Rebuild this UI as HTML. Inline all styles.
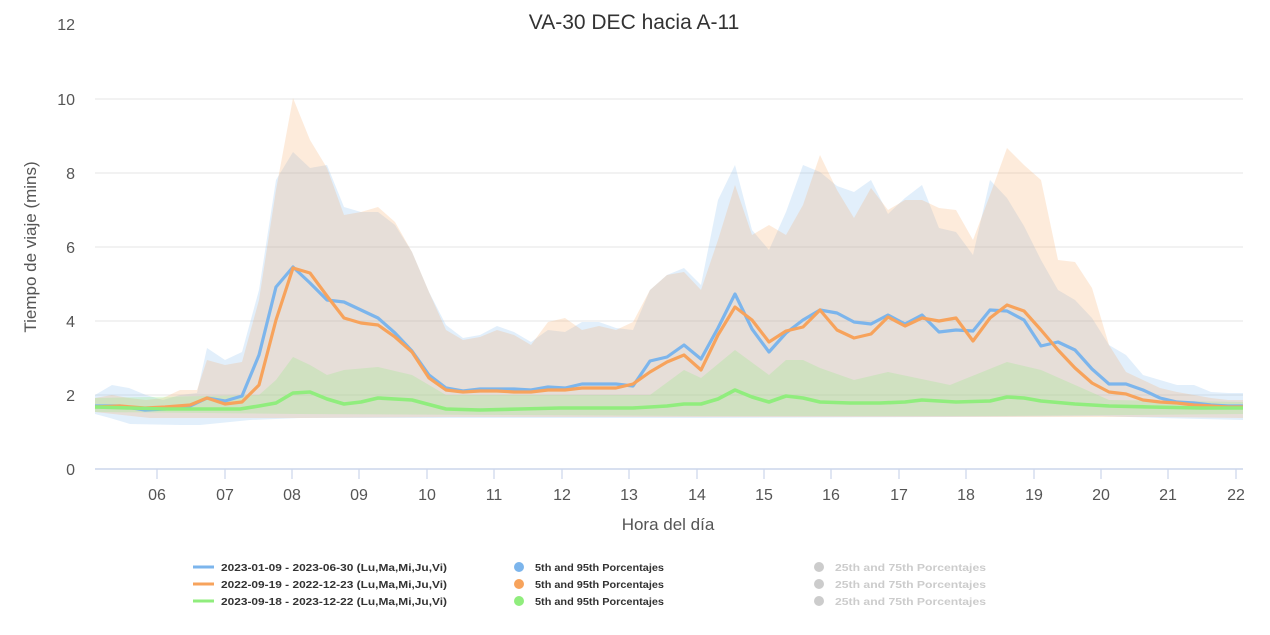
<!DOCTYPE html>
<html><head><meta charset="utf-8"><style>
body{margin:0;background:#fff;}
svg{display:block;font-family:"Liberation Sans",sans-serif;}
</style></head><body>
<svg width="1270" height="635" viewBox="0 0 1270 635">
<rect width="1270" height="635" fill="#fff"/>
<g stroke="#e6e6e6" stroke-width="1">
<line x1="95" y1="99" x2="1243" y2="99"/>
<line x1="95" y1="173" x2="1243" y2="173"/>
<line x1="95" y1="247" x2="1243" y2="247"/>
<line x1="95" y1="321" x2="1243" y2="321"/>
<line x1="95" y1="395" x2="1243" y2="395"/>
</g>
<line x1="95" y1="469" x2="1243" y2="469" stroke="#ccd6eb" stroke-width="1.5"/>
<g stroke="#ccd6eb" stroke-width="1.2">
<line x1="157" y1="469" x2="157" y2="479"/><line x1="225" y1="469" x2="225" y2="479"/><line x1="292" y1="469" x2="292" y2="479"/><line x1="359" y1="469" x2="359" y2="479"/><line x1="427" y1="469" x2="427" y2="479"/><line x1="494" y1="469" x2="494" y2="479"/><line x1="562" y1="469" x2="562" y2="479"/><line x1="629" y1="469" x2="629" y2="479"/><line x1="697" y1="469" x2="697" y2="479"/><line x1="764" y1="469" x2="764" y2="479"/><line x1="831" y1="469" x2="831" y2="479"/><line x1="899" y1="469" x2="899" y2="479"/><line x1="966" y1="469" x2="966" y2="479"/><line x1="1034" y1="469" x2="1034" y2="479"/><line x1="1101" y1="469" x2="1101" y2="479"/><line x1="1168" y1="469" x2="1168" y2="479"/><line x1="1236" y1="469" x2="1236" y2="479"/>
</g>
<polygon fill="#7cb5ec" fill-opacity="0.22" points="95,395 112,385 129,388 146,395 163,400 180,395 197,393 207,348 225,360 242,352 259,290 276,180 293,152 310,168 327,165 344,207 361,212 378,212 395,225 412,252 429,292 446,325 463,338 480,335 497,326 514,332 531,342 548,330 565,332 582,322 599,322 616,328 633,330 650,290 667,275 684,268 701,285 718,200 735,165 752,230 769,250 786,212 803,165 820,172 837,186 854,192 871,180 888,214 905,198 922,185 939,228 956,232 973,255 990,180 1007,198 1024,226 1041,260 1058,290 1075,300 1092,318 1109,345 1126,355 1143,375 1160,380 1177,385 1194,385 1211,392 1228,393 1243,393 1243,420 1160,418 1100,416 950,417 700,418 450,418 300,418 250,420 200,425 180,425 130,424 110,418 95,414"/>
<polygon fill="#f7a35c" fill-opacity="0.22" points="95,398 112,395 129,398 146,400 163,398 180,390 197,390 207,360 225,365 242,362 259,300 276,190 293,98 310,140 327,168 344,215 361,212 378,207 395,222 412,252 429,292 446,330 463,340 480,337 497,330 514,335 531,345 548,322 565,318 582,330 599,326 616,330 633,322 650,290 667,275 684,272 701,290 718,240 735,185 752,235 769,225 786,235 803,205 820,155 837,190 854,218 871,188 888,210 905,200 922,200 939,208 956,210 973,240 990,195 1007,148 1024,165 1041,180 1058,260 1075,262 1092,288 1109,345 1126,372 1143,380 1160,388 1177,392 1194,395 1211,398 1228,400 1243,400 1243,418 1160,417 1000,417 700,417 450,417 300,418 250,418 200,418 150,418 95,412"/>
<polygon fill="#90ed7d" fill-opacity="0.25" points="95,398 259,395 276,380 293,357 310,365 327,375 344,370 378,367 412,375 446,395 650,395 684,370 701,378 735,350 769,375 786,360 803,360 820,368 854,380 888,372 950,385 1007,362 1041,370 1075,385 1109,400 1243,402 1243,414 1000,416 700,416 300,414 95,412"/>
<polyline fill="none" stroke="#7cb5ec" stroke-width="3.2" stroke-linejoin="round" points="95,406 120,406 145,410 165,409 190,406 207,398 225,401 242,396 259,355 276,287 293,267 310,283 327,300 344,302 361,310 378,318 395,333 412,351 429,375 446,388 463,391 480,389 497,389 514,389 531,390 548,387 565,388 582,384 599,384 616,384 633,386 650,361 667,357 684,345 701,359 718,328 735,294 752,329 769,352 786,333 803,320 820,310 837,313 854,322 871,324 888,315 905,324 922,315 939,332 956,330 973,331 990,310 1007,311 1024,320 1041,346 1058,342 1075,350 1092,369 1109,384 1126,384 1143,390 1160,398 1177,402 1194,403 1211,405 1228,406 1243,406"/>
<polyline fill="none" stroke="#f7a35c" stroke-width="3.2" stroke-linejoin="round" points="95,407 120,406 145,408 165,407 190,405 207,398 225,404 242,402 259,385 276,320 293,268 310,273 327,296 344,318 361,323 378,325 395,337 412,352 429,378 446,390 463,392 480,391 497,391 514,392 531,392 548,390 565,390 582,388 599,388 616,388 633,384 650,372 667,362 684,355 701,370 718,335 735,307 752,320 769,342 786,331 803,327 820,310 837,330 854,338 871,334 888,317 905,326 922,318 939,321 956,318 973,341 990,318 1007,305 1024,311 1041,330 1058,350 1075,368 1092,383 1109,392 1126,394 1143,400 1160,402 1177,403 1194,405 1211,406 1228,407 1243,407"/>
<polyline fill="none" stroke="#90ed7d" stroke-width="3.6" stroke-linejoin="round" points="95,407 130,408 165,409 200,409 240,409 259,406 276,403 293,393 310,392 327,399 344,404 361,402 378,398 412,400 446,409 480,410 520,409 560,408 600,408 633,408 667,406 684,404 701,404 718,399 735,390 752,397 769,402 786,396 803,398 820,402 850,403 880,403 905,402 922,400 956,402 990,401 1007,397 1024,398 1041,401 1075,404 1109,406 1150,407 1200,408 1243,408"/>
<text x="634" y="29" font-size="21" text-anchor="middle" fill="#333">VA-30 DEC hacia A-11</text>
<g font-size="16" fill="#555" text-anchor="end">
<text x="75" y="30">12</text><text x="75" y="105">10</text><text x="75" y="179">8</text><text x="75" y="253">6</text><text x="75" y="327">4</text><text x="75" y="401">2</text><text x="75" y="475">0</text>
</g>
<g font-size="16" fill="#555" text-anchor="middle">
<text x="157" y="500">06</text><text x="225" y="500">07</text><text x="292" y="500">08</text><text x="359" y="500">09</text><text x="427" y="500">10</text><text x="494" y="500">11</text><text x="562" y="500">12</text><text x="629" y="500">13</text><text x="697" y="500">14</text><text x="764" y="500">15</text><text x="831" y="500">16</text><text x="899" y="500">17</text><text x="966" y="500">18</text><text x="1034" y="500">19</text><text x="1101" y="500">20</text><text x="1168" y="500">21</text><text x="1236" y="500">22</text>
</g>
<text x="668" y="530" font-size="17" fill="#555" text-anchor="middle">Hora del día</text>
<text transform="translate(36,247) rotate(-90)" font-size="17" fill="#555" text-anchor="middle">Tiempo de viaje (mins)</text>
<g font-size="10" font-weight="bold" fill="#333">
<line x1="193" y1="567" x2="214" y2="567" stroke="#7cb5ec" stroke-width="3"/>
<text x="221" y="571" textLength="226" lengthAdjust="spacingAndGlyphs">2023-01-09 - 2023-06-30 (Lu,Ma,Mi,Ju,Vi)</text>
<line x1="193" y1="584" x2="214" y2="584" stroke="#f7a35c" stroke-width="3"/>
<text x="221" y="588" textLength="226" lengthAdjust="spacingAndGlyphs">2022-09-19 - 2022-12-23 (Lu,Ma,Mi,Ju,Vi)</text>
<line x1="193" y1="601" x2="214" y2="601" stroke="#90ed7d" stroke-width="3"/>
<text x="221" y="605" textLength="226" lengthAdjust="spacingAndGlyphs">2023-09-18 - 2023-12-22 (Lu,Ma,Mi,Ju,Vi)</text>
<circle cx="519" cy="567" r="5" fill="#7cb5ec"/><text x="535" y="571" textLength="129" lengthAdjust="spacingAndGlyphs">5th and 95th Porcentajes</text>
<circle cx="519" cy="584" r="5" fill="#f7a35c"/><text x="535" y="588" textLength="129" lengthAdjust="spacingAndGlyphs">5th and 95th Porcentajes</text>
<circle cx="519" cy="601" r="5" fill="#90ed7d"/><text x="535" y="605" textLength="129" lengthAdjust="spacingAndGlyphs">5th and 95th Porcentajes</text>
</g>
<g font-size="10" font-weight="bold" fill="#cccccc">
<circle cx="819" cy="567" r="5"/><text x="835" y="571" textLength="151" lengthAdjust="spacingAndGlyphs">25th and 75th Porcentajes</text>
<circle cx="819" cy="584" r="5"/><text x="835" y="588" textLength="151" lengthAdjust="spacingAndGlyphs">25th and 75th Porcentajes</text>
<circle cx="819" cy="601" r="5"/><text x="835" y="605" textLength="151" lengthAdjust="spacingAndGlyphs">25th and 75th Porcentajes</text>
</g>
</svg>
</body></html>
